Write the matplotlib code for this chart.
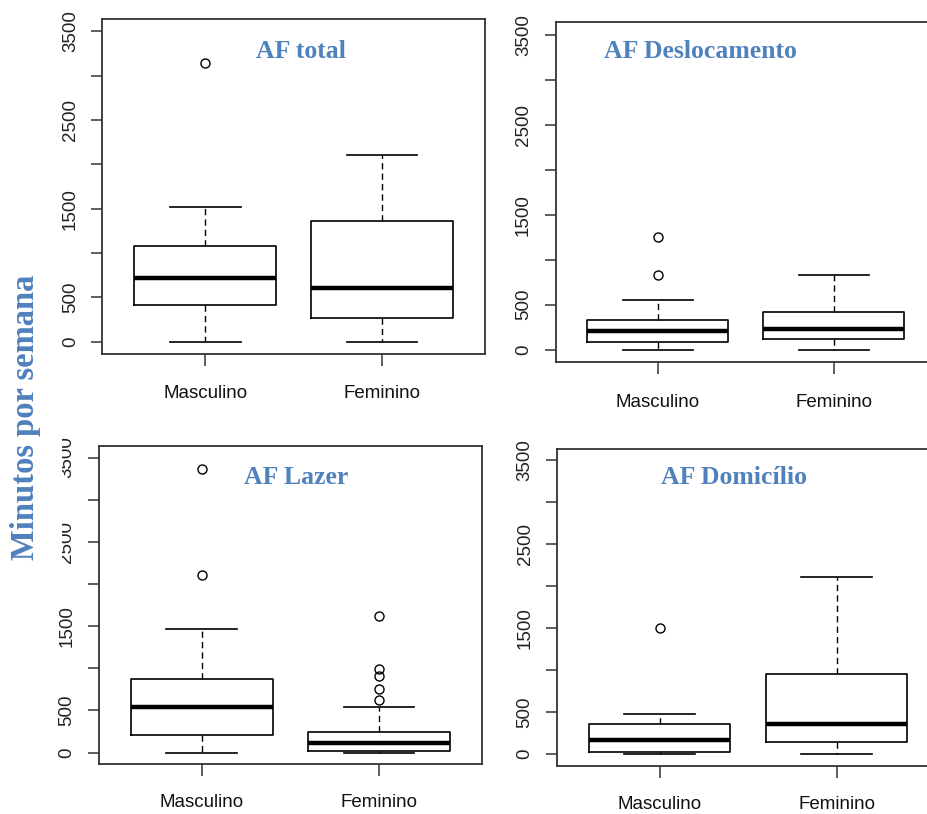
import matplotlib
matplotlib.use("Agg")
import matplotlib.pyplot as plt
from matplotlib.patches import Rectangle

W, H = 928, 814

groups = ["Masculino", "Feminino"]
titles = ["AF total", "AF Deslocamento", "AF Lazer", "AF Domicílio"]

# box statistics (minutes per week), [Masculino, Feminino]
total_med = [717, 603]
total_q1 = [411, 264]
total_q3 = [1079, 1362]
total_lo = [0, 0]
total_hi = [1516, 2105]
total_out = [[3145], []]

desl_med = [204, 230]
desl_q1 = [85, 115]
desl_q3 = [334, 424]
desl_lo = [0, 0]
desl_hi = [554, 832]
desl_out = [[1256, 832], []]

lazer_med = [540, 115]
lazer_q1 = [206, 12]
lazer_q3 = [877, 246]
lazer_lo = [0, 0]
lazer_hi = [1460, 540]
lazer_out = [[3365, 2107], [1623, 996, 913, 758, 627]]

dom_med = [175, 362]
dom_q1 = [28, 143]
dom_q3 = [362, 960]
dom_lo = [0, 0]
dom_hi = [482, 2106]
dom_out = [[1505], []]

yticks = [0, 500, 1000, 1500, 2000, 2500, 3000, 3500]
ylabels = ["0", "500", "", "1500", "", "2500", "", "3500"]

panels = [
    (total_med, total_q1, total_q3, total_lo, total_hi, total_out),
    (desl_med, desl_q1, desl_q3, desl_lo, desl_hi, desl_out),
    (lazer_med, lazer_q1, lazer_q3, lazer_lo, lazer_hi, lazer_out),
    (dom_med, dom_q1, dom_q3, dom_lo, dom_hi, dom_out),
]

# axes boxes in pixels: left, top, right, bottom
boxes = [
    (102.5, 19, 484.7, 354),
    (555.7, 22.3, 936, 362.3),
    (99, 445.7, 481.7, 764.3),
    (557.3, 448.7, 939, 766),
]
title_pos = [(301, 52), (700, 52), (296, 478), (734.5, 478)]
xpads = [14, 14, 13, 13]

blue = "#4F81BD"

fig = plt.figure(figsize=(W / 100, H / 100), dpi=100)

for i, (med, q1, q3, lo, hi, out) in enumerate(panels):
    l, t, r, b = boxes[i]
    ax = fig.add_axes([l / W, 1 - b / H, (r - l) / W, (b - t) / H])
    stats = []
    for k in range(2):
        stats.append(dict(med=med[k], q1=q1[k], q3=q3[k],
                          whislo=lo[k], whishi=hi[k], fliers=out[k]))
    ax.bxp(stats, positions=[1, 2], widths=0.8, capwidths=0.4,
           boxprops=dict(color="black", linewidth=1.2),
           medianprops=dict(color="black", linewidth=3.2),
           whiskerprops=dict(color="black", linewidth=1.0, linestyle=(0, (4.5, 3))),
           capprops=dict(color="black", linewidth=1.2),
           flierprops=dict(marker="o", markerfacecolor="none",
                           markeredgecolor="black", markersize=6.5,
                           markeredgewidth=1.0))
    ax.set_xlim(0.42, 2.58)
    ax.set_ylim(-140, 3640)
    ax.set_yticks(yticks)
    ax.set_yticklabels(ylabels, rotation=90, va="center",
                       fontfamily="Liberation Sans", fontsize=13.5, color="#222222")
    ax.set_xticks([1, 2])
    ax.set_xticklabels(groups, fontfamily="Liberation Sans", fontsize=13.5,
                       color="#111111")
    ax.tick_params(axis="y", direction="out", length=8, width=1.1, pad=9,
                   color="#333333")
    ax.tick_params(axis="x", direction="out", length=8.6, width=1.1,
                   pad=xpads[i], color="#333333")
    for s in ax.spines.values():
        s.set_linewidth(1.3)
        s.set_color("#333333")
    tx, ty = title_pos[i]
    fig.text(tx / W, 1 - ty / H, titles[i], ha="center", va="center",
             fontfamily="Liberation Serif", fontweight="bold",
             fontsize=18.5, color=blue)

# the y label's box hides part of the lower-left tick labels
fig.patches.append(Rectangle((0, 1 - 566 / H), 62 / W, 136 / H,
                             transform=fig.transFigure, facecolor="white",
                             edgecolor="none", zorder=2))

fig.text(26 / W, 1 - 417.5 / H, "Minutos por semana", rotation=90,
         ha="center", va="center", fontfamily="Liberation Serif",
         fontweight="bold", fontsize=23.5, color=blue, zorder=3)

fig.savefig("out.png", dpi=100)
